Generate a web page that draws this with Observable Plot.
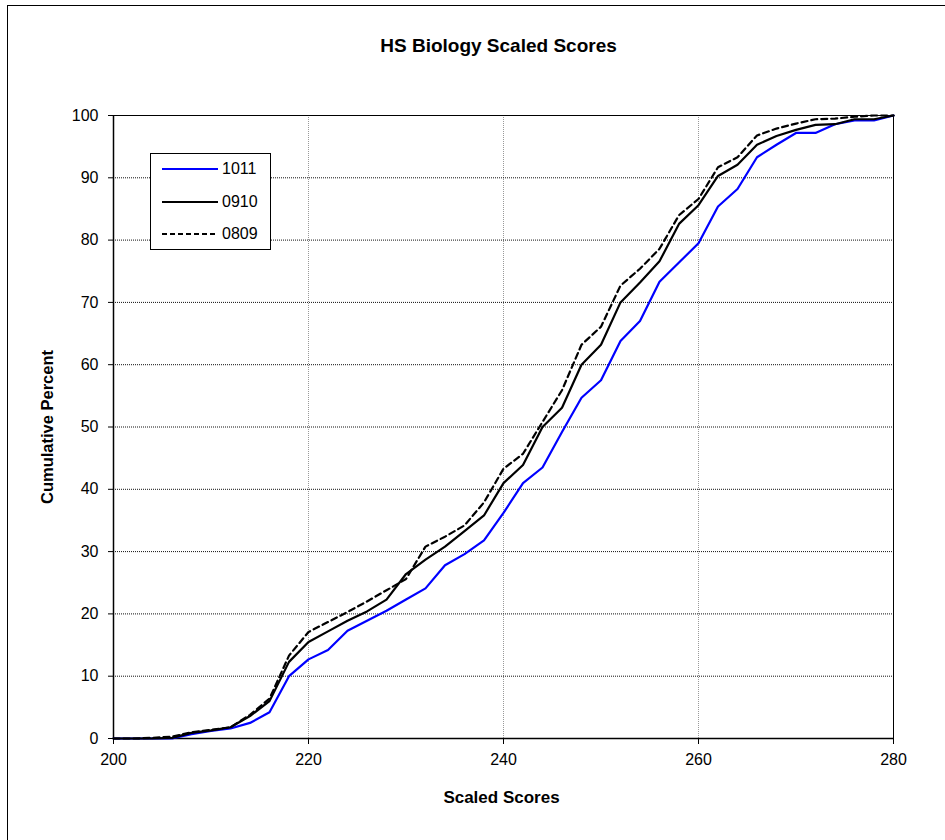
<!DOCTYPE html>
<html><head><meta charset="utf-8">
<script src="https://cdn.jsdelivr.net/npm/d3@7"></script>
<script src="https://cdn.jsdelivr.net/npm/@observablehq/plot@0.6"></script>
<style>
body{margin:0;background:#fff;font-family:"Liberation Sans",Arial,sans-serif;}
#wrap{position:relative;width:945px;height:840px;overflow:hidden;}
#wrap svg{position:absolute;left:0;top:0;}
#border{position:absolute;left:7px;top:5px;width:1000px;height:1000px;border:1px solid #000;box-sizing:border-box;}
#legend{position:absolute;left:150px;top:153px;width:121px;height:97px;border:1px solid #000;background:#fff;box-sizing:border-box;}
.row{position:absolute;left:11px;height:20px;display:flex;align-items:center;font-size:16px;color:#000;}
.row span{margin-left:4px;}
</style></head><body>
<div id="wrap"><div id="border"></div></div>
<script>
const scores = [200,202,204,206,208,210,212,214,216,218,220,222,224,226,228,230,232,234,236,238,240,242,244,246,248,250,252,254,256,258,260,262,264,266,268,270,272,274,276,278,280];
const s1011 = [0,0,0,0,0.7,1.2,1.6,2.5,4.2,10.0,12.7,14.2,17.3,18.9,20.5,22.3,24.1,27.8,29.6,31.8,36.2,41.0,43.5,49.2,54.7,57.5,63.8,67.0,73.3,76.4,79.5,85.4,88.2,93.3,95.3,97.2,97.2,98.6,99.2,99.2,100];
const s0910 = [0,0,0,0.1,0.9,1.3,1.8,3.6,6.0,12.3,15.5,17.2,18.9,20.4,22.3,26.4,28.7,30.8,33.3,35.8,41.0,43.9,50.0,53.1,60.0,63.2,70.0,73.2,76.6,82.6,85.6,90.3,92.1,95.3,96.7,97.7,98.5,98.6,99.4,99.4,100];
const s0809 = [0,0,0.1,0.3,1.0,1.4,1.8,3.8,6.4,13.3,17.1,18.7,20.3,22.0,23.8,25.6,30.8,32.4,34.2,37.9,43.3,45.7,50.8,55.9,63.2,66.1,72.7,75.4,78.6,84.0,86.6,91.7,93.3,96.8,97.9,98.7,99.4,99.5,99.8,100,100];
const seriesNames = ["1011","0910","0809"];
const seriesColors = ["#0000ff","#000000","#000000"];
const seriesDash = [null,null,"6,4"];
const xTicks = [200,220,240,260,280];
const yTicks = [0,10,20,30,40,50,60,70,80,90,100];
const titleText = "HS Biology Scaled Scores";
const xLabel = "Scaled Scores";
const yLabel = "Cumulative Percent";

const seriesValues = [s1011, s0910, s0809];
const series = seriesNames.map((name, k) => scores.map((x, i) => ({x, y: seriesValues[k][i], name})));

const lineMarks = series.map((rows, k) => Plot.lineY(rows, {
  x: "x", y: "y", stroke: seriesColors[k], strokeWidth: 2.2,
  strokeDasharray: seriesDash[k] || undefined
}));

const chart = Plot.plot({
  width: 945, height: 840,
  marginLeft: 113, marginRight: 52, marginTop: 115, marginBottom: 102,
  style: {fontFamily: "'Liberation Sans', Arial, sans-serif", fontSize: "16px", color: "#000", background: "transparent"},
  x: {domain: [200, 280]},
  y: {domain: [0, 100]},
  marks: [
    Plot.gridX(xTicks, {stroke: "#999", strokeOpacity: 1, strokeDasharray: "1,1"}),
    Plot.gridY(yTicks, {stroke: "#111", strokeOpacity: 1, strokeDasharray: "1,1"}),
    Plot.frame({stroke: "#000", strokeWidth: 1}),
    Plot.ruleX([200], {stroke: "#000", strokeWidth: 1.5}),
    Plot.ruleY([0], {stroke: "#000", strokeWidth: 1.5}),
    ...lineMarks,
    Plot.axisX(xTicks, {tickSize: 6, tickPadding: 9, fontSize: 16, label: null}),
    Plot.axisY(yTicks, {tickSize: 5, tickPadding: 10, fontSize: 16, label: null}),
    Plot.text([titleText], {text: d => d, frameAnchor: "top", lineAnchor: "middle", dx: -5, dy: -70, fontWeight: "bold", fontSize: 19}),
    Plot.text([xLabel], {text: d => d, frameAnchor: "bottom", lineAnchor: "middle", dx: -2, dy: 59, fontWeight: "bold", fontSize: 17}),
    Plot.text([yLabel], {text: d => d, frameAnchor: "left", textAnchor: "middle", lineAnchor: "middle", dx: -66, rotate: -90, fontWeight: "bold", fontSize: 16.5})
  ]
});
const wrap = document.getElementById("wrap");
wrap.appendChild(chart);

const legend = document.createElement("div");
legend.id = "legend";
const rowTops = [5, 38, 70];
seriesNames.forEach((name, k) => {
  const row = document.createElement("div");
  row.className = "row";
  row.style.top = rowTops[k] + "px";
  const ns = "http://www.w3.org/2000/svg";
  const svg = document.createElementNS(ns, "svg");
  svg.setAttribute("width", 56); svg.setAttribute("height", 20);
  svg.style.position = "static";
  const ln = document.createElementNS(ns, "line");
  ln.setAttribute("x1", 0); ln.setAttribute("x2", 56);
  ln.setAttribute("y1", 10); ln.setAttribute("y2", 10);
  ln.setAttribute("stroke", seriesColors[k]);
  ln.setAttribute("stroke-width", 2);
  if (seriesDash[k]) ln.setAttribute("stroke-dasharray", "5,3");
  svg.appendChild(ln);
  const sp = document.createElement("span");
  sp.textContent = name;
  row.appendChild(svg); row.appendChild(sp);
  legend.appendChild(row);
});
wrap.appendChild(legend);
</script>
</body></html>
